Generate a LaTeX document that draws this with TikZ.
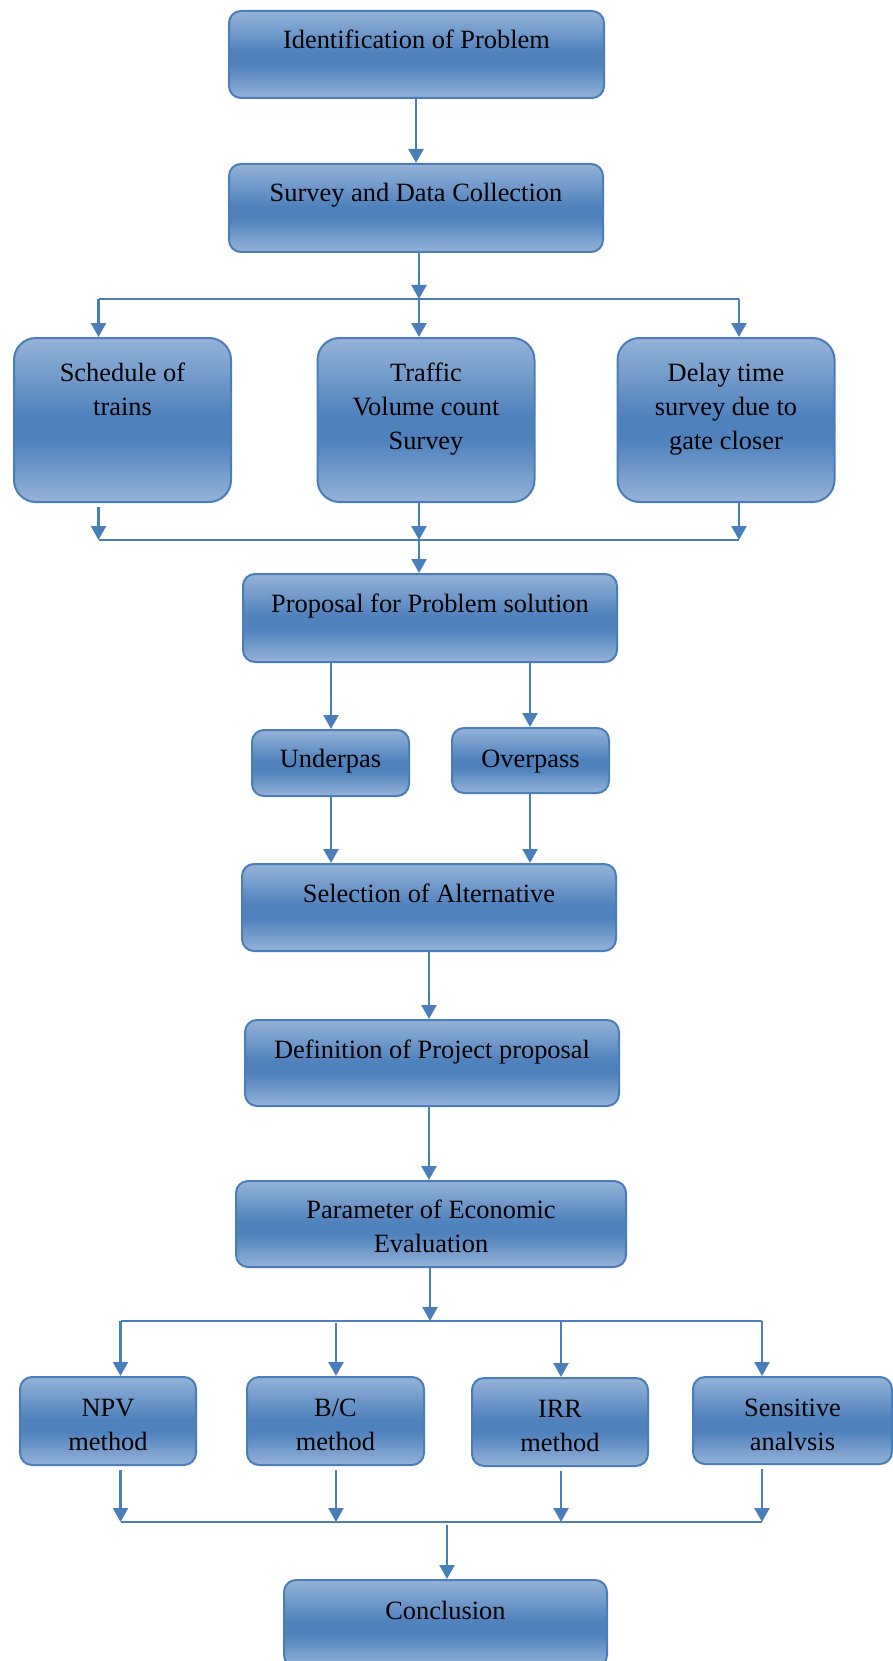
\documentclass[tikz,border=0pt]{standalone}
\usepackage{fontspec}
\setmainfont{Liberation Serif}
\usetikzlibrary{arrows.meta,calc}
\definecolor{lightB}{HTML}{95B3D7}
\definecolor{darkB}{HTML}{4F81BD}
\definecolor{edgeB}{HTML}{4A7EBB}
\pgfdeclareverticalshading{boxshade}{100bp}{color(0bp)=(lightB); color(25bp)=(lightB); color(44bp)=(darkB); color(51bp)=(darkB); color(75bp)=(lightB); color(100bp)=(lightB)}
\newcommand{\tb}[3]{\parbox[c][#2pt][t]{#1pt}{\centering\strut #3}}
\tikzset{
  box/.style={draw=edgeB, line width=2pt, shade, shading=boxshade, rounded corners=12pt, inner sep=0pt, font=\fontsize{26.4}{34}\selectfont, text=black},
  tall/.style={box, rounded corners=22pt},
  arr/.style={draw=edgeB, line width=2.3pt, -{Triangle[width=15pt,length=14pt]}},
  ln/.style={draw=edgeB, line width=2.3pt}
}
\begin{document}
\begin{tikzpicture}[x=1pt,y=-1pt]
\useasboundingbox (0,0) rectangle (893,1661);
\clip (0,0) rectangle (893,1661);
% boxes
\node[box, minimum width=375pt, minimum height=87pt] (b1) at (416.5,54.5) {\tb{355}{58.6}{Identification of Problem}};
\node[box, minimum width=374pt, minimum height=88pt] (b2) at (416,208) {\tb{354}{59.6}{Survey and Data Collection}};
\node[tall, minimum width=217pt, minimum height=164pt] (b3) at (122.5,420) {\tb{200}{125.6}{Schedule of\\trains}};
\node[tall, minimum width=217pt, minimum height=164pt] (b4) at (426,420) {\tb{200}{125.6}{Traffic\\Volume count\\Survey}};
\node[tall, minimum width=217pt, minimum height=164pt] (b5) at (726,420) {\tb{200}{125.6}{Delay time\\survey due to\\gate closer}};
\node[box, minimum width=374pt, minimum height=88pt] (b6) at (430,618) {\tb{354}{59.6}{Proposal for Problem solution}};
\node[box, minimum width=157pt, minimum height=66pt] (b7) at (330.5,763) {\tb{145}{39.6}{Underpas}};
\node[box, minimum width=157pt, minimum height=65pt] (b8) at (530.5,760.5) {\tb{145}{34.6}{Overpass}};
\node[box, minimum width=374pt, minimum height=87pt] (b9) at (429,907.5) {\tb{354}{58.6}{Selection of Alternative}};
\node[box, minimum width=374pt, minimum height=86pt] (b10) at (432,1063) {\tb{354}{57.6}{Definition of Project proposal}};
\node[box, minimum width=390pt, minimum height=86pt] (b11) at (431,1224) {\tb{370}{59.6}{Parameter of Economic\\Evaluation}};
\node[box, minimum width=176pt, minimum height=88pt] (b12) at (108,1421) {\tb{160}{57.6}{NPV\\method}};
\node[box, minimum width=177pt, minimum height=88pt] (b13) at (335.5,1421) {\tb{160}{57.6}{B/C\\method}};
\node[box, minimum width=176pt, minimum height=88pt] (b14) at (560,1422) {\tb{160}{57.6}{IRR\\method}};
\node[box, minimum width=199pt, minimum height=87pt] (b15) at (792.5,1420.5) {\tb{180}{56.6}{Sensitive\\analvsis}};
\node[box, minimum width=323pt, minimum height=87pt] (b16) at (445.5,1623.5) {\tb{300}{56.6}{Conclusion}};
% bus coordinates
\coordinate (t1) at (98.5,299);
\coordinate (tm) at (419,299);
\coordinate (t2) at (739,299);
\coordinate (u1) at (98.5,540);
\coordinate (um) at (419,540);
\coordinate (u2) at (739,540);
\coordinate (xU) at (331,700);
\coordinate (xO) at (530,700);
\coordinate (xA) at (429,1000);
\coordinate (v1) at (120.5,1321);
\coordinate (vb) at (336,1321);
\coordinate (vi) at (561,1321);
\coordinate (vm) at (430,1321);
\coordinate (v2) at (762,1321);
\coordinate (w1) at (120.5,1522);
\coordinate (wb) at (336,1522);
\coordinate (wi) at (561,1522);
\coordinate (wm) at (447,1522);
\coordinate (w2) at (762,1522);
% connectors
\draw[arr] (b1.south -| b2.north) -- (b2.north);
\draw[arr] (b2.south -| tm) -- (tm);
\draw[ln] (t1) -- (t2);
\draw[arr] (t1) -- (t1 |- b3.north);
\draw[arr] (tm) -- (tm |- b4.north);
\draw[arr] (t2) -- (t2 |- b5.north);
\draw[arr] ([yshift=-4pt]b3.south -| u1) -- (u1);
\draw[arr] (b4.south -| um) -- (um);
\draw[arr] (b5.south -| u2) -- (u2);
\draw[ln] (u1) -- (u2);
\draw[arr] (um) -- (um |- b6.north);
\draw[arr] (b6.south -| xU) -- (b7.north -| xU);
\draw[arr] (b6.south -| xO) -- (b8.north -| xO);
\draw[arr] (b7.south -| xU) -- (b9.north -| xU);
\draw[arr] (b8.south -| xO) -- (b9.north -| xO);
\draw[arr] (b9.south -| xA) -- (b10.north -| xA);
\draw[arr] (b10.south -| xA) -- (b11.north -| xA);
\draw[arr] (b11.south -| vm) -- (vm);
\draw[ln] (v1) -- (v2);
\draw[arr] (v1) -- (v1 |- b12.north);
\draw[arr] ([yshift=-2pt]vb) -- (vb |- b13.north);
\draw[arr] (vi) -- (vi |- b14.north);
\draw[arr] (v2) -- (v2 |- b15.north);
\draw[arr] ([yshift=-4pt]b12.south -| w1) -- (w1);
\draw[arr] ([yshift=-4pt]b13.south -| wb) -- (wb);
\draw[arr] ([yshift=-4pt]b14.south -| wi) -- (wi);
\draw[arr] ([yshift=-4pt]b15.south -| w2) -- (w2);
\draw[ln] (w1) -- (w2);
\draw[arr] ([yshift=-3pt]wm) -- (wm |- b16.north);
\end{tikzpicture}
\end{document}
